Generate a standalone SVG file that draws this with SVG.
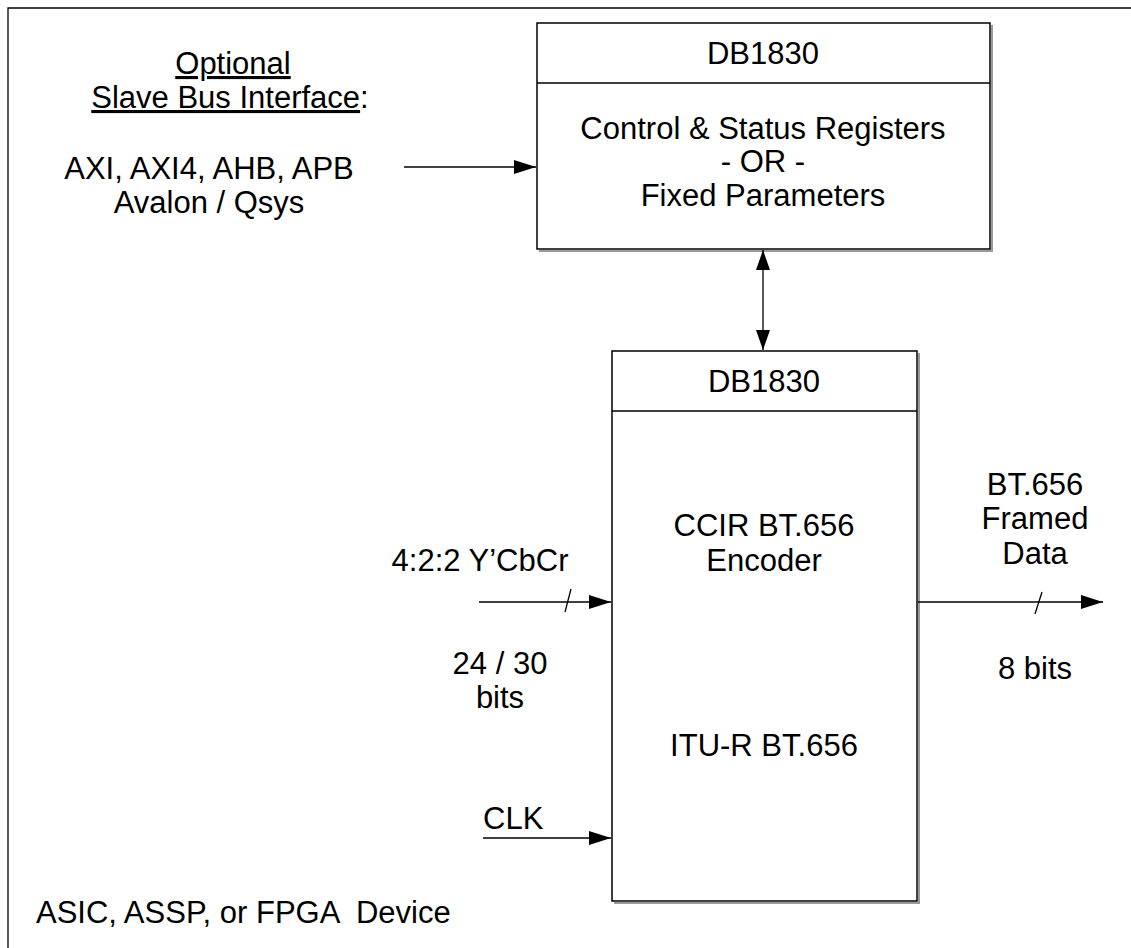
<svg xmlns="http://www.w3.org/2000/svg" width="1131" height="948" viewBox="0 0 1131 948">
<defs>
<style>
text{font-family:"Liberation Sans",Arial,sans-serif;font-size:31px;fill:#000}
.c{text-anchor:middle}
.box{fill:#fff;stroke:#000;stroke-width:1.5}
.sh{fill:none;stroke:#999;stroke-width:2}
.ln{stroke:#000;stroke-width:1.3;fill:none}
</style>
<marker id="ah" viewBox="0 0 22 14" refX="22" refY="7" markerWidth="22" markerHeight="14" markerUnits="userSpaceOnUse" orient="auto">
<path d="M0,0 L22,7 L0,14 Z" fill="#000"/>
</marker>
<marker id="ahs" viewBox="0 0 20 14" refX="20" refY="7" markerWidth="20" markerHeight="14" markerUnits="userSpaceOnUse" orient="auto-start-reverse">
<path d="M0,0 L20,7 L0,14 Z" fill="#000"/>
</marker>
</defs>
<rect width="1131" height="948" fill="#fff"/>
<g id="frame">
<path d="M8,948 V8 H1131" class="ln"/>
</g>
<g id="labels">
<text x="233" y="74" class="c" text-decoration="underline">Optional</text>
<text x="230" y="108" class="c"><tspan text-decoration="underline">Slave Bus Interface</tspan>:</text>
<text x="209" y="179" class="c">AXI, AXI4, AHB, APB</text>
<text x="209" y="213" class="c">Avalon / Qsys</text>
<text x="36" y="923" xml:space="preserve">ASIC, ASSP, or FPGA  Device</text>
</g>
<g id="regs">
<path d="M539,251 H992 V25" class="sh"/>
<rect x="537" y="23" width="453" height="226" class="box"/>
<line x1="537" y1="83" x2="990" y2="83" class="ln"/>
<text x="763" y="64" class="c">DB1830</text>
<text x="763" y="139" class="c">Control &amp; Status Registers</text>
<text x="763" y="172" class="c">- OR -</text>
<text x="763" y="206" class="c">Fixed Parameters</text>
</g>
<g id="encoder">
<path d="M614,903 H919 V353" class="sh"/>
<rect x="612" y="351" width="305" height="550" class="box"/>
<line x1="612" y1="411" x2="917" y2="411" class="ln"/>
<text x="764" y="392" class="c">DB1830</text>
<text x="764" y="536" class="c">CCIR BT.656</text>
<text x="764" y="571" class="c">Encoder</text>
<text x="764" y="756" class="c">ITU-R BT.656</text>
</g>
<g id="connectors">
<line x1="404" y1="167" x2="536" y2="167" class="ln" marker-end="url(#ah)"/>
<line x1="763" y1="250" x2="763" y2="350" class="ln" marker-start="url(#ahs)" marker-end="url(#ahs)"/>
<line x1="479" y1="602" x2="611" y2="602" class="ln" marker-end="url(#ah)"/>
<line x1="565" y1="612" x2="571" y2="589" class="ln"/>
<line x1="918" y1="602" x2="1103" y2="602" class="ln" marker-end="url(#ah)"/>
<line x1="1035" y1="614" x2="1042" y2="592" class="ln"/>
<line x1="483" y1="838" x2="611" y2="838" class="ln" marker-end="url(#ah)"/>
</g>
<g id="io-labels">
<text x="480" y="571" class="c">4:2:2 Y’CbCr</text>
<text x="500" y="674" class="c">24 / 30</text>
<text x="500" y="708" class="c">bits</text>
<text x="483" y="829">CLK</text>
<text x="1035" y="495" class="c">BT.656</text>
<text x="1035" y="529" class="c">Framed</text>
<text x="1035" y="564" class="c">Data</text>
<text x="1035" y="679" class="c">8 bits</text>
</g>
</svg>
